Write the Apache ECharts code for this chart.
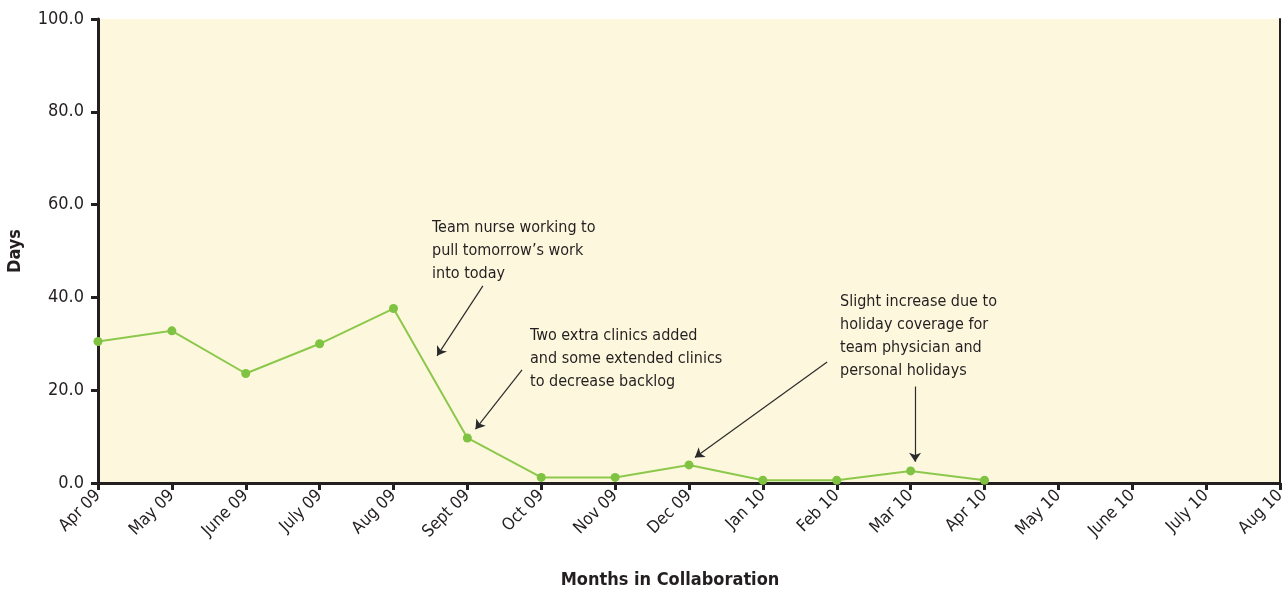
<!DOCTYPE html>
<html>
<head>
<meta charset="utf-8">
<script src="https://cdn.jsdelivr.net/npm/echarts@6/dist/echarts.min.js"></script>
<style>
  html, body { margin: 0; padding: 0; background: #fff; }
  #chart { width: 1282px; height: 590px; }
</style>
</head>
<body>
<div id="chart"></div>
<script>
// months on the x axis
let months = ['Apr 09', 'May 09', 'June 09', 'July 09', 'Aug 09', 'Sept 09', 'Oct 09', 'Nov 09',
  'Dec 09', 'Jan 10', 'Feb 10', 'Mar 10', 'Apr 10', 'May 10', 'June 10', 'July 10', 'Aug 10'];
// days (only the first 13 months have values)
let days = [30.5, 32.8, 23.6, 30.0, 37.6, 9.7, 1.2, 1.2, 3.9, 0.6, 0.6, 2.6, 0.6];
// y axis range
let yMin = 0, yMax = 100, yStep = 20;

// arrows for the notes: [from x, from y] -> [to x, to y], x in month index, y in days
let arrows = [
  [[5.21, 42.5], [4.59, 27.4]],
  [[5.74, 24.4], [5.11, 11.6]],
  [[9.87, 26.1], [8.08, 5.5]],
  [[11.06, 20.8], [11.06, 4.6]]
];

let font = "'Liberation Sans Narrow', 'DejaVu Sans Condensed', 'Noto Sans', sans-serif";
let dark = '#231f20';

let myChart = echarts.init(document.getElementById('chart'));

function note(left, top, text) {
  return {
    type: 'text',
    left: left,
    top: top,
    style: {
      text: text,
      font: '16px ' + font,
      fill: dark,
      lineHeight: 23
    }
  };
}

let option = {
  animation: false,
  grid: {
    left: 98, right: 2, top: 19, bottom: 107,
    outerBoundsMode: 'none',
    containLabel: false,
    show: true,
    backgroundColor: '#fdf8dd',
    borderWidth: 0
  },
  xAxis: [{
    type: 'category',
    data: months,
    boundaryGap: false,
    name: 'Months in Collaboration',
    nameLocation: 'middle',
    nameGap: 88,
    nameTextStyle: { fontFamily: font, fontWeight: 'bold', fontSize: 18, color: dark, padding: [0, 38, 0, 0] },
    axisLine: { lineStyle: { color: dark, width: 3 } },
    axisTick: { alignWithLabel: true, length: 7, lineStyle: { color: dark, width: 3 } },
    axisLabel: { rotate: 45, fontFamily: font, fontSize: 17, color: dark, margin: 10, interval: 0 },
    splitLine: { show: false }
  }, {
    // hidden helper axis for placing the note arrows
    type: 'value',
    min: 0, max: months.length - 1,
    show: false
  }],
  yAxis: [{
    type: 'value',
    min: yMin, max: yMax, interval: yStep,
    name: 'Days',
    nameLocation: 'middle',
    nameRotate: 90,
    nameGap: 74,
    nameTextStyle: { fontFamily: font, fontWeight: 'bold', fontSize: 18, color: dark },
    axisLine: { show: true, lineStyle: { color: dark, width: 3 } },
    axisTick: { show: true, length: 7, lineStyle: { color: dark, width: 3 } },
    axisLabel: {
      fontFamily: font, fontSize: 18, color: dark, margin: 14,
      formatter: function (v) { return v.toFixed(1); }
    },
    splitLine: { show: false }
  }, {
    type: 'value',
    position: 'right',
    min: yMin, max: yMax, interval: yStep,
    axisLine: { show: true, lineStyle: { color: dark, width: 2 } },
    axisTick: { show: false },
    axisLabel: { show: false },
    splitLine: { show: false }
  }],
  series: [{
    type: 'line',
    data: days,
    symbol: 'circle',
    symbolSize: 9,
    z: 3,
    itemStyle: { color: '#80c342' },
    lineStyle: { color: '#8cc84b', width: 2 }
  }, {
    type: 'lines',
    coordinateSystem: 'cartesian2d',
    xAxisIndex: 1,
    yAxisIndex: 0,
    silent: true,
    symbol: ['none', 'arrow'],
    symbolSize: [6, 9],
    lineStyle: { color: '#2b2b2b', width: 1.2, opacity: 1 },
    data: arrows.map(function (a) { return { coords: a }; })
  }],
  graphic: [
    note(432, 216, 'Team nurse working to\npull tomorrow\u2019s work\ninto today'),
    note(530, 324, 'Two extra clinics added\nand some extended clinics\nto decrease backlog'),
    note(840, 290, 'Slight increase due to\nholiday coverage for\nteam physician and\npersonal holidays')
  ]
};

myChart.setOption(option);
</script>
</body>
</html>
